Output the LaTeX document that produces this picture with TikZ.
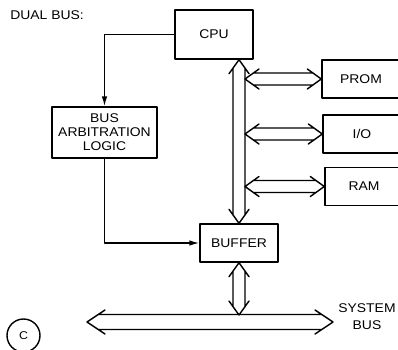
\documentclass[tikz,border=0pt]{standalone}
\usepackage{fontspec}
\setmainfont{Liberation Sans}[FakeStretch=1.1]
\usetikzlibrary{arrows.meta,calc}

% bus arrow sizes: half width, wing, head length, shaft start
\newcommand\busH{1.5mm}
\newcommand\busW{2.5mm}
\newcommand\busL{3.5mm}
\newcommand\busD{2.1mm}
\newcommand\busarrow[2]{%
  \draw[busline] ($(#1)!\busD!(#2)!\busH!90:(#2)$) -- ($(#2)!\busD!(#1)!\busH!-90:(#1)$)
    ($(#1)!\busD!(#2)!\busH!-90:(#2)$) -- ($(#2)!\busD!(#1)!\busH!90:(#1)$)
    ($(#1)!\busL!(#2)!\busW!90:(#2)$) -- (#1) -- ($(#1)!\busL!(#2)!\busW!-90:(#2)$)
    ($(#2)!\busL!(#1)!\busW!90:(#1)$) -- (#2) -- ($(#2)!\busL!(#1)!\busW!-90:(#1)$);}

\tikzset{
  blk/.style={draw,line width=1pt,minimum width=19.5mm,minimum height=9.5mm,
    inner sep=0pt,align=center,font=\fontsize{9}{10}\selectfont},
  busline/.style={line width=1pt},
  ctl/.style={line width=1pt,-{Latex[length=2.5mm,width=1.4mm]}}
}

\begin{document}
\begin{tikzpicture}[x=0.25mm,y=-0.25mm,line cap=round,line join=round]
  \useasboundingbox (0,0) rectangle (398,349);
  \clip (0,0) rectangle (398,349);

  \node[anchor=west,inner sep=0pt,font=\fontsize{9}{10}\selectfont] (title) at (10,15) {DUAL BUS:};

  \node[blk,minimum height=12.25mm] (cpu) at (214,34.5) {CPU};
  \node[blk] (prom) at (361,79) {PROM};
  \node[blk] (io) at (362,134) {I/O};
  \node[blk] (ram) at (364,186.5) {RAM};
  \node[blk,minimum width=26.25mm,minimum height=12.75mm] (arb) at (104.5,132.5) {BUS\\ARBITRATION\\LOGIC};
  \node[blk] (buf) at (239,243) {BUFFER};
  \node[align=center,font=\fontsize{9}{12}\selectfont] (sysbus) at (367,317) {SYSTEM\\BUS};
  \node[draw,circle,line width=1pt,minimum size=8.25mm,inner sep=0pt,
    font=\fontsize{8}{9}\selectfont] (tag) at (23.5,335.5) {C};

  % control lines
  \draw[ctl] (cpu.west) -| (arb.north);
  \draw[ctl] (arb.south) |- (buf.west);

  % local bus
  \coordinate (vtop) at (cpu.south -| buf.north);
  \coordinate (vr) at (245,0);
  \coordinate (promL) at (prom.west -| vr);
  \coordinate (ioL) at (io.west -| vr);
  \coordinate (ramL) at (ram.west -| vr);
  \busarrow{vtop}{buf.north}
  \busarrow{promL}{prom.west}
  \busarrow{ioL}{io.west}
  \busarrow{ramL}{ram.west}

  % system bus
  \coordinate (sysL) at (87,322);
  \coordinate (sysR) at (333,322);
  \coordinate (sysT) at (239,315);
  {\renewcommand\busH{1.875mm}\renewcommand\busW{3mm}%
   \renewcommand\busL{4.5mm}\renewcommand\busD{2.8mm}%
   \busarrow{sysL}{sysR}}
  \busarrow{buf.south}{sysT}
\end{tikzpicture}
\end{document}
